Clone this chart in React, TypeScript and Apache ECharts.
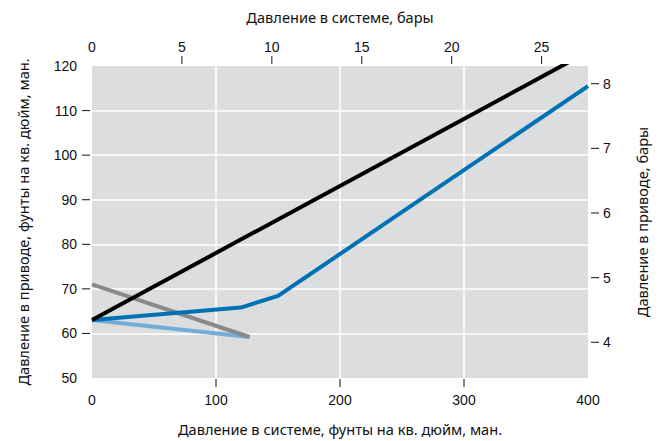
import React, { useEffect, useRef } from "react";
import * as echarts from "echarts";

const PSI_PER_BAR = 14.5038;

const xTickLabels = [0, 100, 200, 300, 400];
const xTicks = [100, 200, 300];
const yTickLabels = [50, 60, 70, 80, 90, 100, 110, 120];
const yTicks = [60, 70, 80, 90, 100, 110];
const barTopLabels = [0, 5, 10, 15, 20, 25];
const barTopTicks = [5, 10, 15, 20, 25];
const barRightLabels = [4, 5, 6, 7, 8];

const blackLine = [[0, 63], [400, 123.2]];
const darkBlueLine = [[0, 63], [120, 65.8], [150, 68.4], [400, 115.5]];
const greyLine = [[0, 71], [127, 59.2]];
const lightBlueLine = [[0, 63], [127, 59.2]];

const FONT = "Liberation Sans";
const TITLE_FONT = "Noto Sans";

const W = 664, H = 441;
const G = { left: 92, right: 76, top: 66, bottom: 63 };
const X_MIN = 0, X_MAX = 400, Y_MIN = 50, Y_MAX = 120;

const near = (arr: number[], v: number) => arr.some((a) => Math.abs(a - v) < 1e-6);

export default function App() {
  const ref = useRef<HTMLDivElement>(null);
  useEffect(() => {
    const chart = echarts.init(ref.current!, null, { renderer: "svg" });
    const nameStyle = { color: "#111", fontSize: 14.6, fontFamily: TITLE_FONT };
    const split = { show: true, showMinLine: false, showMaxLine: false, lineStyle: { color: "#ffffff", width: 1.5 } };
    const txt = { color: "#111", fontSize: 14, fontFamily: FONT };

    // tick marks are drawn as small filled boxes inside the axis labels
    const hRich = (lh: number) => ({
      v: { ...txt, lineHeight: lh },
      t: { width: 8, height: 1, backgroundColor: "#111111" },
      n: { width: 8, height: 1 },
      g: { width: 5, height: 1 },
    });
    const vRich = (lh: number) => ({
      v: { ...txt, lineHeight: lh },
      t: { width: 1, height: 8, lineHeight: 8, backgroundColor: "#111111" },
      n: { width: 1, height: 8, lineHeight: 8 },
    });

    chart.setOption({
      animation: false,
      grid: { ...G, show: true, backgroundColor: "#dcdddf", borderWidth: 0 },
      xAxis: [
        {
          type: "value", position: "bottom", min: X_MIN, max: X_MAX, interval: 100,
          offset: 1,
          axisLine: { show: false },
          axisTick: { show: false },
          axisLabel: {
            margin: 0, customValues: xTickLabels,
            formatter: (v: number) => `{${near(xTicks, v) ? "t" : "n"}|}\n{v|${v}}`,
            rich: vRich(26),
          },
          splitLine: split,
          name: "Давление в системе, фунты на кв. дюйм, ман.",
          nameLocation: "middle", nameGap: 42, nameTextStyle: nameStyle,
        },
        {
          type: "value", position: "top", min: 0, max: X_MAX / PSI_PER_BAR, interval: 5,
          offset: 2,
          axisLine: { show: false },
          axisTick: { show: false },
          axisLabel: {
            margin: 0, customValues: barTopLabels,
            formatter: (v: number) => `{v|${v}}\n{${near(barTopTicks, v) ? "t" : "n"}|}`,
            rich: vRich(18),
          },
          splitLine: { show: false },
          name: "Давление в системе, бары",
          nameLocation: "middle", nameGap: 40, nameTextStyle: nameStyle,
        },
      ],
      yAxis: [
        {
          type: "value", position: "left", min: Y_MIN, max: Y_MAX, interval: 10,
          offset: 2,
          axisLine: { show: false },
          axisTick: { show: false },
          axisLabel: {
            margin: 0, customValues: yTickLabels,
            formatter: (v: number) => `{v|${v}}{g|}{${near(yTicks, v) ? "t" : "n"}|}`,
            rich: hRich(16),
          },
          splitLine: split,
          name: "Давление в приводе, фунты на кв. дюйм, ман.",
          nameLocation: "middle", nameGap: 60, nameTextStyle: nameStyle,
        },
        {
          type: "value", position: "right", min: Y_MIN / PSI_PER_BAR, max: Y_MAX / PSI_PER_BAR,
          offset: 1,
          axisLine: { show: false },
          axisTick: { show: false },
          axisLabel: {
            margin: 0, customValues: barRightLabels,
            formatter: (v: number) => `{g|}{t|}{s|}{v|${v}}`,
            rich: { ...hRich(16), g: { width: 2, height: 1 }, s: { width: 4, height: 1 } },
          },
          splitLine: { show: false },
          name: "Давление в приводе, бары",
          nameLocation: "middle", nameGap: 45, nameTextStyle: nameStyle,
        },
      ],
      series: [
        { type: "line", data: lightBlueLine, xAxisIndex: 0, yAxisIndex: 0, symbol: "none", lineStyle: { color: "#74acd8", width: 4 } },
        { type: "line", data: greyLine, xAxisIndex: 0, yAxisIndex: 0, symbol: "none", lineStyle: { color: "#8a8a8a", width: 4 } },
        { type: "line", data: darkBlueLine, xAxisIndex: 0, yAxisIndex: 0, symbol: "none", lineStyle: { color: "#0071b2", width: 4, join: "miter" } },
        { type: "line", data: blackLine, xAxisIndex: 0, yAxisIndex: 0, symbol: "none", clip: true, lineStyle: { color: "#000000", width: 4 } },
      ],
    });

    return () => chart.dispose();
  }, []);
  return (
    <div
      ref={ref}
      style={{ position: "absolute", left: 0, top: 0, width: W, height: H, background: "#fff" }}
    />
  );
}
